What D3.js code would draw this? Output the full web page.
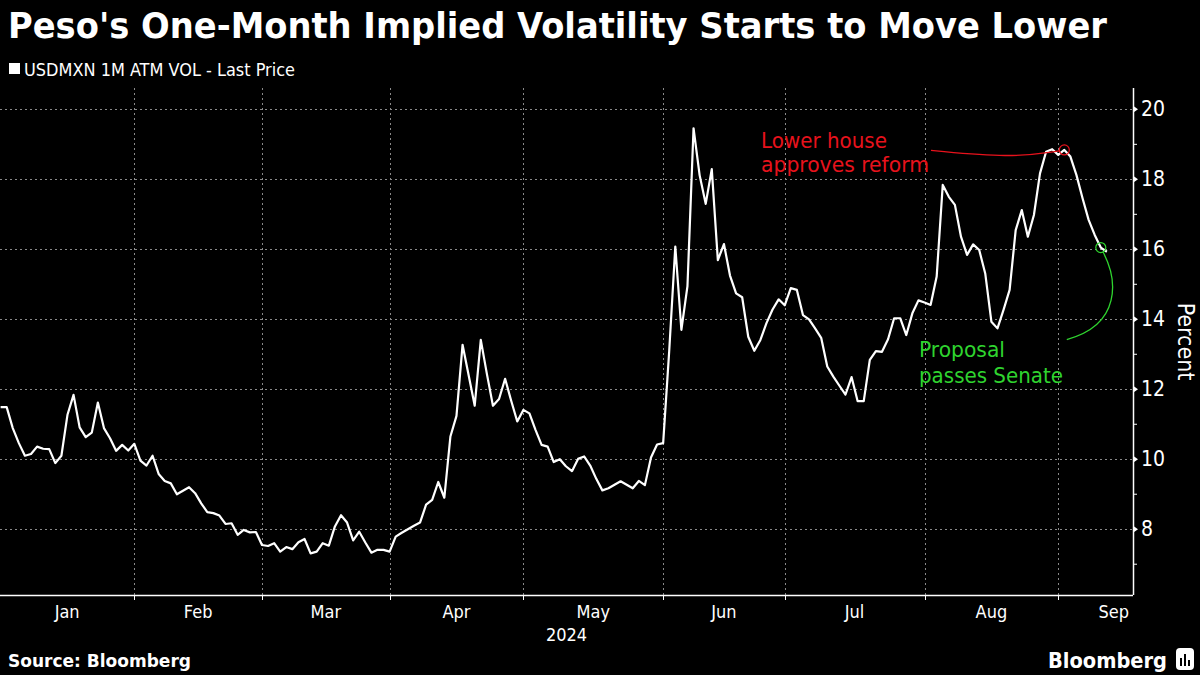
<!DOCTYPE html>
<html><head><meta charset="utf-8">
<script src="https://cdn.jsdelivr.net/npm/d3@7"></script>
<style>html,body{margin:0;padding:0;background:#000;} svg{display:block}</style>
</head><body>
<svg id="chart" width="1200" height="675"></svg>
<script>
// ---------------- data ----------------
const titleText = "Peso's One-Month Implied Volatility Starts to Move Lower";
const seriesName = "USDMXN 1M ATM VOL - Last Price";
const sourceText = "Source: Bloomberg";
const startDate = "2024-01-02"; // first business day shown; one value per weekday
const vol = [
  11.49,11.49,10.89,10.46,10.10,10.15,10.36,10.30,10.29,9.89,
  10.10,11.27,11.84,10.91,10.63,10.76,11.62,10.89,10.60,10.24,
  10.41,10.25,10.44,9.96,9.82,10.10,9.58,9.38,9.31,9.00,
  9.10,9.20,9.03,8.74,8.49,8.46,8.39,8.15,8.17,7.84,
  7.98,7.91,7.92,7.55,7.52,7.60,7.36,7.49,7.43,7.63,
  7.72,7.31,7.36,7.60,7.53,8.08,8.40,8.19,7.68,7.93,
  7.62,7.33,7.41,7.41,7.36,7.79,7.90,8.00,8.10,8.19,
  8.70,8.84,9.35,8.90,10.65,11.24,13.27,12.40,11.53,13.41,
  12.44,11.53,11.72,12.30,11.67,11.08,11.41,11.31,10.84,10.41,
  10.36,9.92,10.00,9.80,9.66,10.01,10.08,9.82,9.44,9.11,
  9.17,9.27,9.37,9.27,9.17,9.38,9.26,10.05,10.42,10.46,
  13.10,16.08,13.70,14.95,19.46,18.12,17.30,18.29,15.69,16.15,
  15.25,14.74,14.63,13.50,13.10,13.41,13.89,14.28,14.57,14.40,
  14.89,14.84,14.12,14.00,13.74,13.47,12.65,12.36,12.10,11.85,
  12.35,11.66,11.66,12.84,13.09,13.07,13.43,14.03,14.03,13.55,
  14.17,14.54,14.48,14.41,15.22,17.84,17.50,17.27,16.36,15.84,
  16.14,15.98,15.30,13.93,13.74,14.27,14.84,16.55,17.12,16.36,
  16.98,18.17,18.79,18.86,18.70,18.84,18.65,18.12,17.46,16.84,
  16.41,16.05,15.93
];
const monthLabels = ["Jan","Feb","Mar","Apr","May","Jun","Jul","Aug","Sep"];
const yearLabel = "2024";
const yTicks = [8,10,12,14,16,18,20];
const yMinorTicks = [7,9,11,13,15,17,19];
const yLabel = "Percent";
const redNote = ["Lower house","approves reform"];
const redDate = "2024-09-03";
const greenNote = ["Proposal","passes Senate"];
const greenDate = "2024-09-11";

// ---------------- layout ----------------
const W = 1200, H = 675;
const plot = {left: 0, right: 1133, top: 88, bottom: 595};
const svg = d3.select("#chart");
svg.append("rect").attr("width", W).attr("height", H).attr("fill", "#000");
const FONT = "'DejaVu Sans Condensed','DejaVu Sans',sans-serif";

// business-day dates
const parse = d3.timeParse("%Y-%m-%d");
const dates = [];
{
  let d = parse(startDate);
  while (dates.length < vol.length) {
    const wd = d.getDay();
    if (wd !== 0 && wd !== 6) dates.push(new Date(d));
    d = d3.timeDay.offset(d, 1);
  }
}
const data = vol.map((v, i) => ({i, date: dates[i], v}));
const idxOf = s => dates.findIndex(d => +d === +parse(s));

const x = d3.scaleLinear().domain([-0.1, 186.3]).range([plot.left, plot.right]);
const y = d3.scaleLinear().domain([6.12, 20.61]).range([plot.bottom, plot.top]);

// month boundaries (index of first business day of each month)
const monthStarts = [];
{
  // extend business days beyond data to find month ends
  let d = parse(startDate), i = 0, prevM = null;
  while (i < 200) {
    const wd = d.getDay();
    if (wd !== 0 && wd !== 6) {
      if (d.getMonth() !== prevM) { monthStarts.push(i); prevM = d.getMonth(); }
      i++;
    }
    d = d3.timeDay.offset(d, 1);
  }
}

function fitText(sel, target) {
  const w = sel.node().getComputedTextLength();
  if (Math.abs(w - target) > 2) sel.attr("textLength", target).attr("lengthAdjust", "spacingAndGlyphs");
  return sel;
}

// ---------------- grid ----------------
const grid = svg.append("g").attr("stroke", "#8a8a8a").attr("stroke-width", 1).attr("stroke-dasharray", "2,3");
grid.selectAll("line.h").data(yTicks).join("line")
  .attr("x1", plot.left).attr("x2", plot.right)
  .attr("y1", d => Math.round(y(d)) + 0.5).attr("y2", d => Math.round(y(d)) + 0.5);
const tickIdx = monthStarts.slice(1, monthLabels.length);
grid.selectAll("line.v").data(tickIdx).join("line")
  .attr("x1", d => Math.round(x(d)) + 0.5).attr("x2", d => Math.round(x(d)) + 0.5)
  .attr("y1", plot.top).attr("y2", plot.bottom);

// ---------------- line ----------------
svg.append("clipPath").attr("id", "clip").append("rect")
  .attr("x", plot.left).attr("y", plot.top).attr("width", plot.right - plot.left).attr("height", plot.bottom - plot.top);
svg.append("path").datum(data)
  .attr("clip-path", "url(#clip)")
  .attr("fill", "none").attr("stroke", "#ffffff").attr("stroke-width", 2.2)
  .attr("stroke-linejoin", "round")
  .attr("d", d3.line().x(d => x(d.i)).y(d => y(d.v)));

// ---------------- x axis ----------------
const xa = svg.append("g");
xa.append("line").attr("x1", plot.left).attr("x2", plot.right)
  .attr("y1", plot.bottom + 0.5).attr("y2", plot.bottom + 0.5).attr("stroke", "#fff").attr("stroke-width", 1.5);
xa.selectAll("line.t").data(tickIdx).join("line")
  .attr("x1", d => Math.round(x(d)) + 0.5).attr("x2", d => Math.round(x(d)) + 0.5)
  .attr("y1", plot.bottom).attr("y2", plot.bottom + 5).attr("stroke", "#fff");
monthLabels.forEach((m, k) => {
  const a = k === 0 ? plot.left : x(monthStarts[k]);
  const b = x(monthStarts[k + 1]);
  let cx = (a + b) / 2;
  const t = xa.append("text").text(m).attr("fill", "#fff").attr("font-family", FONT)
    .attr("font-size", 18).attr("text-anchor", "middle").attr("y", 618);
  const tw = t.node().getComputedTextLength();
  cx = Math.min(cx, plot.right - tw / 2 - 4);
  t.attr("x", cx);
});
xa.append("text").text(yearLabel).attr("x", (plot.left + plot.right) / 2).attr("y", 641)
  .attr("fill", "#fff").attr("font-family", FONT).attr("font-size", 18).attr("text-anchor", "middle");

// ---------------- y axis ----------------
const ya = svg.append("g");
ya.append("line").attr("x1", plot.right + 0.5).attr("x2", plot.right + 0.5)
  .attr("y1", plot.top).attr("y2", plot.bottom).attr("stroke", "#fff").attr("stroke-width", 1.5);
ya.selectAll("path.maj").data(yTicks).join("path")
  .attr("d", d => `M${plot.right},${y(d) - 3.5} L${plot.right + 5},${y(d)} L${plot.right},${y(d) + 3.5} Z`)
  .attr("fill", "#fff");
ya.selectAll("line.min").data(yMinorTicks).join("line")
  .attr("x1", plot.right).attr("x2", plot.right + 4)
  .attr("y1", d => y(d)).attr("y2", d => y(d)).attr("stroke", "#fff");
ya.selectAll("text").data(yTicks).join("text")
  .text(d => d).attr("x", plot.right + 8).attr("y", d => y(d) + 7)
  .attr("fill", "#fff").attr("font-family", FONT).attr("font-size", 21);
ya.append("text").text(yLabel)
  .attr("transform", `translate(1178,${(plot.top + plot.bottom) / 2}) rotate(90)`)
  .attr("text-anchor", "middle").attr("fill", "#fff").attr("font-family", FONT).attr("font-size", 23);

// ---------------- annotations ----------------
const RED = "#e8121c", GREEN = "#2fd42f";
const ri = idxOf(redDate), gi = idxOf(greenDate);
const rcx = x(ri), rcy = y(vol[ri]);
const gcx = x(gi), gcy = y(vol[gi]);
const rt = svg.append("g").attr("fill", RED).attr("font-family", FONT).attr("font-size", 21);
fitText(rt.append("text").text(redNote[0]).attr("x", 761).attr("y", 148), 126);
fitText(rt.append("text").text(redNote[1]).attr("x", 761).attr("y", 172), 168);
svg.append("path")
  .attr("d", d3.line().curve(d3.curveBasis)([[931, rcy + 0.5], [1010, rcy + 8], [rcx - 5, rcy + 1]]))
  .attr("fill", "none").attr("stroke", RED).attr("stroke-width", 1.3);
svg.append("circle").attr("cx", rcx).attr("cy", rcy).attr("r", 5)
  .attr("fill", "none").attr("stroke", RED).attr("stroke-width", 1.2);

const gt = svg.append("g").attr("fill", GREEN).attr("font-family", FONT).attr("font-size", 21);
fitText(gt.append("text").text(greenNote[0]).attr("x", 919).attr("y", 357), 86);
fitText(gt.append("text").text(greenNote[1]).attr("x", 919).attr("y", 383), 144);
svg.append("path")
  .attr("d", `M${gcx + 2},${gcy + 4} C${gcx + 17},${gcy + 32} ${gcx + 21},${gcy + 77} ${gcx - 34},${gcy + 92}`)
  .attr("fill", "none").attr("stroke", GREEN).attr("stroke-width", 1.3);
svg.append("circle").attr("cx", gcx).attr("cy", gcy).attr("r", 5)
  .attr("fill", "none").attr("stroke", GREEN).attr("stroke-width", 1.2);

// ---------------- title, legend, footer ----------------
fitText(svg.append("text").text(titleText).attr("x", 8).attr("y", 38)
  .attr("fill", "#fff").attr("font-family", FONT).attr("font-weight", "bold").attr("font-size", 35), 1099);
svg.append("rect").attr("x", 9).attr("y", 63).attr("width", 11).attr("height", 11).attr("fill", "#fff");
fitText(svg.append("text").text(seriesName).attr("x", 24).attr("y", 76)
  .attr("fill", "#fff").attr("font-family", FONT).attr("font-size", 17), 271);
fitText(svg.append("text").text(sourceText).attr("x", 8).attr("y", 667)
  .attr("fill", "#fff").attr("font-family", FONT).attr("font-weight", "bold").attr("font-size", 17), 183);
fitText(svg.append("text").text("Bloomberg").attr("x", 1048).attr("y", 668)
  .attr("fill", "#fff").attr("font-family", FONT).attr("font-weight", "bold").attr("font-size", 22), 119);
const logo = svg.append("g").attr("transform", "translate(1176,648)");
logo.append("rect").attr("width", 18).attr("height", 22).attr("rx", 4).attr("fill", "#fff");
logo.append("rect").attr("x", 4).attr("y", 10).attr("width", 2).attr("height", 8).attr("fill", "#000");
logo.append("rect").attr("x", 8).attr("y", 6).attr("width", 2).attr("height", 12).attr("fill", "#000");
logo.append("rect").attr("x", 12).attr("y", 12).attr("width", 2).attr("height", 6).attr("fill", "#000");
</script>
</body></html>
